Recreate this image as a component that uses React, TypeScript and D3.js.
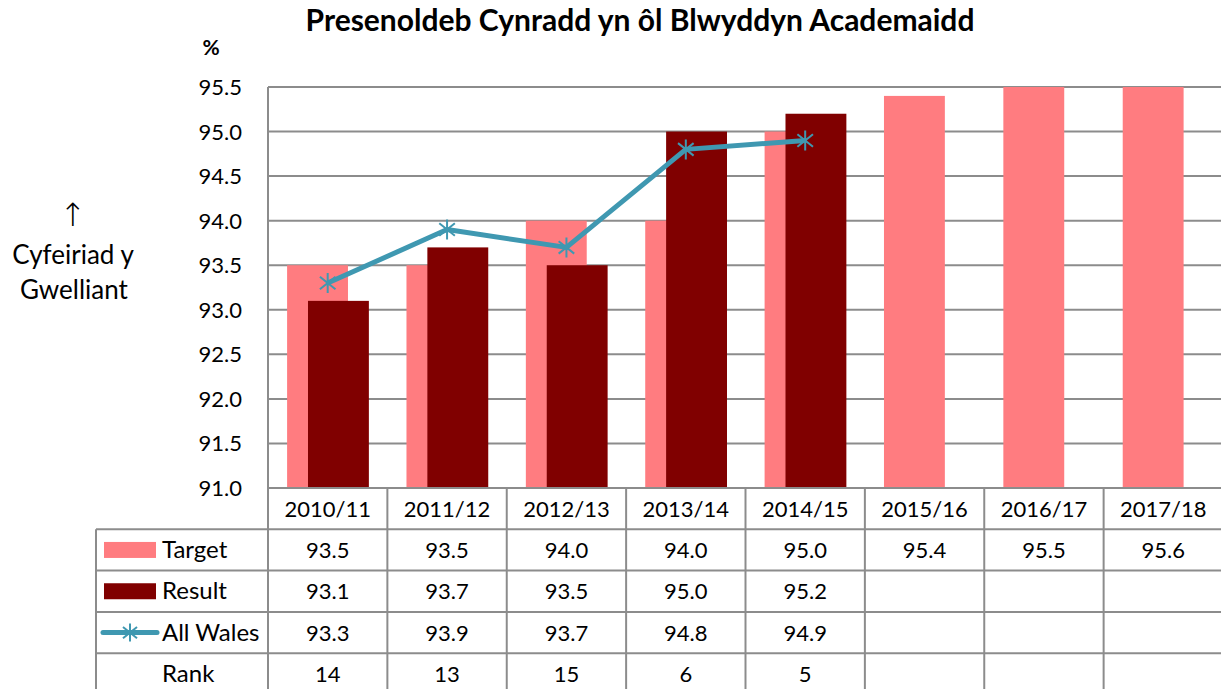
import * as d3 from 'd3';
import React, { useEffect, useRef } from 'react';

// chart values
const years = ['2010/11', '2011/12', '2012/13', '2013/14', '2014/15', '2015/16', '2016/17', '2017/18'];
const target = [93.5, 93.5, 94.0, 94.0, 95.0, 95.4, 95.5, 95.6];
const result = [93.1, 93.7, 93.5, 95.0, 95.2, null, null, null];
const allWales = [93.3, 93.9, 93.7, 94.8, 94.9, null, null, null];
const rank = [14, 13, 15, 6, 5, null, null, null];
const yTicks = [91.0, 91.5, 92.0, 92.5, 93.0, 93.5, 94.0, 94.5, 95.0, 95.5];

const TARGET_COL = '#FF7C80';
const RESULT_COL = '#800000';
const LINE_COL = '#3F98B1';
const GRID_COL = '#8C8C8C';
const FONT = 'Lato, Carlito, sans-serif';

function starPath(cx: number, cy: number, r: number) {
    // excel style star marker: vertical + X
    const d = r * 0.78;
    return `M${cx},${cy - r}L${cx},${cy + r}` +
        `M${cx - d},${cy - d * 0.8}L${cx + d},${cy + d * 0.8}` +
        `M${cx - d},${cy + d * 0.8}L${cx + d},${cy - d * 0.8}`;
}

export default function App() {
    const ref = useRef<SVGSVGElement | null>(null);

    useEffect(() => {
        document.body.style.margin = '0';
        const svg = d3.select(ref.current);
        svg.selectAll('*').remove();

        const W = 1221, H = 689;
        const left = 268, right = 1223, top = 87, bottom = 488;
        const tableLeft = 96;
        const rowH = 41.3;

        const x = d3.scaleBand<string>().domain(years).range([left, right]).padding(0);
        const bw = x.bandwidth();
        const y = d3.scaleLinear().domain([91, 95.5]).range([bottom, top]);

        svg.append('rect').attr('width', W).attr('height', H).attr('fill', 'white');

        // title
        svg.append('text')
            .attr('x', 640).attr('y', 31)
            .attr('text-anchor', 'middle')
            .attr('font-family', FONT).attr('font-weight', 'bold').attr('font-size', 30)
            .text('Presenoldeb Cynradd yn ôl Blwyddyn Academaidd');

        svg.append('text')
            .attr('x', 211).attr('y', 55)
            .attr('text-anchor', 'middle')
            .attr('font-family', FONT).attr('font-weight', 'bold').attr('font-size', 21)
            .text('%');

        // direction of improvement note
        const note = svg.append('g').attr('font-family', FONT).attr('font-size', 26).attr('text-anchor', 'middle');
        note.append('text').attr('x', 73).attr('y', 226).attr('font-family', 'DejaVu Sans').attr('font-weight', 300).attr('font-size', 32).text('↑');
        note.append('text').attr('x', 73).attr('y', 264).text('Cyfeiriad y');
        note.append('text').attr('x', 74).attr('y', 299).text('Gwelliant');

        // gridlines
        svg.append('g').selectAll('line')
            .data(yTicks.filter(t => t > 91))
            .enter().append('line')
            .attr('x1', left).attr('x2', W)
            .attr('y1', d => y(d)).attr('y2', d => y(d))
            .attr('stroke', GRID_COL).attr('stroke-width', 2);

        // y tick labels
        svg.append('g').selectAll('text')
            .data(yTicks)
            .enter().append('text')
            .attr('x', 242).attr('y', d => y(d) + 8)
            .attr('text-anchor', 'end')
            .attr('font-family', FONT).attr('font-size', 22)
            .text(d => d.toFixed(1));

        // bars
        const clip = (v: number) => Math.min(v, 95.5);
        svg.append('g').selectAll('rect')
            .data(years)
            .enter().append('rect')
            .attr('x', (d) => (x(d) as number) + bw * 0.16)
            .attr('width', bw * 0.51)
            .attr('y', (d, i) => y(clip(target[i])))
            .attr('height', (d, i) => y(91) - y(clip(target[i])))
            .attr('fill', TARGET_COL);

        svg.append('g').selectAll('rect')
            .data(years.filter((d, i) => result[i] != null))
            .enter().append('rect')
            .attr('x', (d) => (x(d) as number) + bw * 0.335)
            .attr('width', bw * 0.51)
            .attr('y', (d, i) => y(clip(result[i] as number)))
            .attr('height', (d, i) => y(91) - y(clip(result[i] as number)))
            .attr('fill', RESULT_COL);

        // all wales line
        const pts = years.map((d, i) => ({ cx: (x(d) as number) + bw / 2, v: allWales[i] }))
            .filter(p => p.v != null) as { cx: number; v: number }[];
        const line = d3.line<{ cx: number; v: number }>().x(p => p.cx).y(p => y(p.v));
        svg.append('path')
            .attr('d', line(pts))
            .attr('fill', 'none')
            .attr('stroke', LINE_COL).attr('stroke-width', 5)
            .attr('stroke-linejoin', 'round');
        svg.append('g').selectAll('path')
            .data(pts)
            .enter().append('path')
            .attr('d', p => starPath(p.cx, y(p.v), 10))
            .attr('stroke', LINE_COL).attr('stroke-width', 2).attr('fill', 'none');

        // axis + data table
        const tbl = svg.append('g').attr('stroke', GRID_COL).attr('stroke-width', 2);
        tbl.append('line').attr('x1', left).attr('x2', left).attr('y1', top).attr('y2', H);
        tbl.append('line').attr('x1', left).attr('x2', W).attr('y1', bottom).attr('y2', bottom);
        for (let r = 1; r <= 4; r++) {
            const yy = bottom + rowH * r;
            tbl.append('line').attr('x1', tableLeft).attr('x2', W).attr('y1', yy).attr('y2', yy);
        }
        tbl.append('line').attr('x1', tableLeft).attr('x2', tableLeft).attr('y1', bottom + rowH).attr('y2', H);
        tbl.selectAll('.vdiv')
            .data(years.slice(1))
            .enter().append('line')
            .attr('x1', d => x(d) as number).attr('x2', d => x(d) as number)
            .attr('y1', bottom).attr('y2', H);

        const rows: (string | null)[][] = [
            years,
            target.map(v => v.toFixed(1)),
            result.map(v => (v == null ? null : v.toFixed(1))),
            allWales.map(v => (v == null ? null : v.toFixed(1))),
            rank.map(v => (v == null ? null : String(v))),
        ];
        rows.forEach((row, r) => {
            svg.append('g').selectAll('text')
                .data(row.map((t, i) => ({ t, i })).filter(c => c.t != null))
                .enter().append('text')
                .attr('x', c => (x(years[c.i]) as number) + bw / 2)
                .attr('y', bottom + rowH * r + rowH / 2 + 8)
                .attr('text-anchor', 'middle')
                .attr('font-family', FONT).attr('font-size', 22)
                .text(c => c.t as string);
        });

        // legend keys in the table
        const ly = (r: number) => bottom + rowH * r + rowH / 2;
        svg.append('rect').attr('x', 104).attr('y', ly(1) - 8).attr('width', 52).attr('height', 16).attr('fill', TARGET_COL);
        svg.append('rect').attr('x', 104).attr('y', ly(2) - 8).attr('width', 52).attr('height', 16).attr('fill', RESULT_COL);
        svg.append('line').attr('x1', 103).attr('x2', 157).attr('y1', ly(3)).attr('y2', ly(3))
            .attr('stroke', LINE_COL).attr('stroke-width', 5).attr('stroke-linecap', 'round');
        svg.append('path').attr('d', starPath(130, ly(3), 9))
            .attr('stroke', LINE_COL).attr('stroke-width', 2).attr('fill', 'none');
        const labels = ['Target', 'Result', 'All Wales', 'Rank'];
        svg.append('g').selectAll('text')
            .data(labels)
            .enter().append('text')
            .attr('x', 162).attr('y', (d, i) => ly(i + 1) + 8)
            .attr('font-family', FONT).attr('font-size', 24)
            .text(d => d);
    }, []);

    return <svg ref={ref} width={1221} height={689} style={{ display: 'block' }} />;
}
